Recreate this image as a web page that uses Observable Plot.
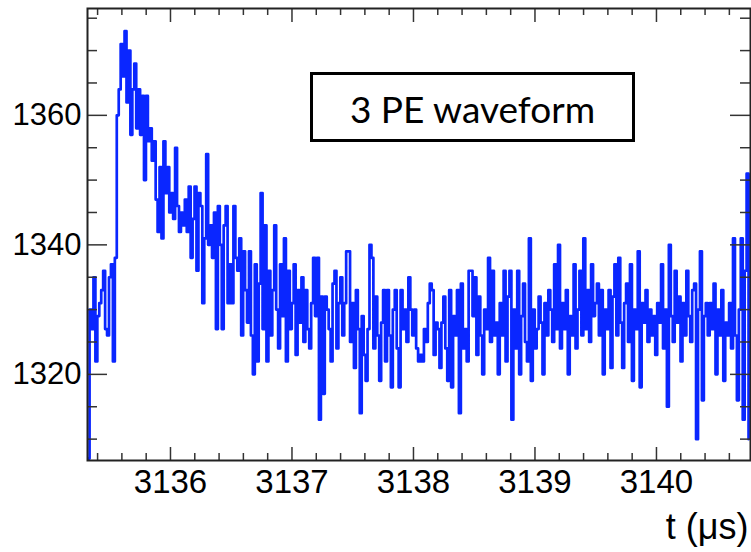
<!DOCTYPE html>
<html>
<head>
<meta charset="utf-8">
<script src="https://cdn.jsdelivr.net/npm/d3@7"></script>
<script src="https://cdn.jsdelivr.net/npm/@observablehq/plot@0.6"></script>
<style>
  html, body { margin: 0; padding: 0; background: #fff; }
  #wrap { position: relative; width: 751px; height: 552px; overflow: hidden; }
  #legend {
    position: absolute; left: 310px; top: 72px; width: 325px; height: 70px;
    box-sizing: border-box; border: 3px solid #000; background: #fff;
    display: flex; align-items: center; justify-content: center;
    font-family: Lato, "Open Sans", sans-serif; font-size: 37px; color: #000;
    padding-top: 2px;
  }
</style>
</head>
<body>
<div id="wrap"><div id="chart"></div><div id="legend">3 PE waveform</div></div>
<script>
// Sampling grid of the waveform (µs)
const tStart = 3135.318;
const dt = 0.016;
// ADC counts, one per sample
const adc = [
  1307, 1330, 1327, 1335, 1322, 1329, 1331, 1333, 1336, 1327,
  1326, 1335, 1337, 1322, 1338, 1360, 1364, 1371, 1366, 1373,
  1362, 1370, 1357, 1364, 1368, 1358, 1364, 1357, 1363, 1350,
  1363, 1356, 1358, 1353, 1356, 1347, 1342, 1352, 1341, 1356,
  1348, 1352, 1345, 1348, 1344, 1355, 1346, 1342, 1345, 1343,
  1347, 1342, 1349, 1338, 1344, 1349, 1336, 1348, 1346, 1331,
  1341, 1354, 1340, 1343, 1338, 1345, 1327, 1346, 1340, 1327,
  1343, 1346, 1331, 1337, 1331, 1346, 1338, 1336, 1341, 1326,
  1339, 1333, 1328, 1339, 1326, 1320, 1337, 1322, 1334, 1348,
  1327, 1343, 1322, 1336, 1326, 1333, 1343, 1330, 1324, 1337,
  1329, 1341, 1322, 1336, 1327, 1331, 1337, 1323, 1333, 1328,
  1335, 1325, 1333, 1327, 1324, 1331, 1338, 1329, 1338, 1313,
  1332, 1317, 1332, 1330, 1327, 1322, 1334, 1336, 1324, 1331,
  1335, 1326, 1331, 1339, 1339, 1325, 1331, 1321, 1333, 1327,
  1314, 1329, 1323, 1319, 1327, 1340, 1338, 1324, 1332, 1326,
  1319, 1328, 1333, 1322, 1333, 1326, 1318, 1330, 1333, 1324,
  1318, 1333, 1327, 1330, 1325, 1335, 1330, 1326, 1330, 1324,
  1322, 1323, 1322, 1327, 1325, 1331, 1334, 1333, 1323, 1328,
  1327, 1321, 1328, 1332, 1324, 1319, 1333, 1318, 1329, 1326,
  1333, 1314, 1334, 1324, 1327, 1322, 1336, 1336, 1329, 1335,
  1323, 1332, 1326, 1320, 1330, 1327, 1338, 1325, 1336, 1326,
  1328, 1320, 1331, 1326, 1336, 1322, 1332, 1336, 1313, 1330,
  1324, 1336, 1320, 1329, 1334, 1325, 1322, 1341, 1319, 1330,
  1324, 1327, 1332, 1328, 1320, 1331, 1326, 1333, 1330, 1325,
  1337, 1327, 1340, 1324, 1331, 1327, 1333, 1320, 1329, 1326,
  1337, 1324, 1330, 1336, 1326, 1341, 1327, 1333, 1325, 1337,
  1329, 1331, 1334, 1326, 1333, 1320, 1330, 1327, 1333, 1321,
  1332, 1337, 1326, 1338, 1328, 1321, 1331, 1334, 1325, 1337,
  1319, 1330, 1327, 1339, 1318, 1331, 1328, 1333, 1325, 1330,
  1326, 1329, 1323, 1331, 1328, 1337, 1324, 1330, 1315, 1340,
  1329, 1325, 1336, 1328, 1332, 1322, 1331, 1326, 1336, 1329,
  1325, 1333, 1334, 1310, 1330, 1339, 1316, 1329, 1331, 1326,
  1331, 1327, 1334, 1320, 1330, 1326, 1333, 1319, 1328, 1326,
  1331, 1324, 1341, 1326, 1316, 1330, 1341, 1313, 1336, 1351,
  1310
];
const xMajor = [3136, 3137, 3138, 3139, 3140];
const xMinor = [3135.4, 3135.6, 3135.8, 3136.2, 3136.4, 3136.6, 3136.8, 3137.2, 3137.4, 3137.6, 3137.8,
  3138.2, 3138.4, 3138.6, 3138.8, 3139.2, 3139.4, 3139.6, 3139.8, 3140.2, 3140.4, 3140.6];
const yMajor = [1320, 1340, 1360];
const yMinor = [1310, 1315, 1325, 1330, 1335, 1345, 1350, 1355, 1365, 1370, 1375];
const xDomain = [3135.317, 3140.774];
const yDomain = [1306.7, 1376.5];
const xTitle = "t (μs)";

const samples = adc.map((v, i) => ({t: tStart + i * dt, v}));

const W = 751, H = 552, mL = 87, mR = 1, mT = 8, mB = 92;
const pw = W - mL - mR, ph = H - mT - mB;
const tickColor = "#333";
const lineColor = "#0a26ff";

const chart = Plot.plot({
  width: W, height: H,
  marginLeft: mL, marginRight: mR, marginTop: mT, marginBottom: mB,
  style: {fontFamily: "'Liberation Sans', Arial, Helvetica, sans-serif", background: "#fff", color: "#000"},
  x: {domain: xDomain},
  y: {domain: yDomain},
  marks: [
    Plot.line(samples, {x: "t", y: "v", curve: "step-after", stroke: lineColor, strokeWidth: 2.7, clip: true}),
    Plot.tickX(xMinor, {x: d => d, insetTop: ph - 7, stroke: tickColor, strokeWidth: 1.5}),
    Plot.tickX(xMajor, {x: d => d, insetTop: ph - 13, stroke: tickColor, strokeWidth: 1.5}),
    Plot.tickX(xMinor, {x: d => d, insetBottom: ph - 7, stroke: tickColor, strokeWidth: 1.5}),
    Plot.tickX(xMajor, {x: d => d, insetBottom: ph - 14, stroke: tickColor, strokeWidth: 1.5}),
    Plot.tickY(yMinor, {y: d => d, insetRight: pw - 10, stroke: tickColor, strokeWidth: 1.5}),
    Plot.tickY(yMajor, {y: d => d, insetRight: pw - 20, stroke: tickColor, strokeWidth: 1.5}),
    Plot.tickY(yMinor, {y: d => d, insetLeft: pw - 10, stroke: tickColor, strokeWidth: 1.5}),
    Plot.tickY(yMajor, {y: d => d, insetLeft: pw - 20, stroke: tickColor, strokeWidth: 1.5}),
    Plot.axisX(xMajor, {tickSize: 0, tickPadding: 9, fontSize: 33, label: null, tickFormat: d => String(d)}),
    Plot.axisY(yMajor, {tickSize: 0, tickPadding: 6, fontSize: 31, label: null, tickFormat: d => String(d)}),
    Plot.frame({stroke: "#222", strokeWidth: 2}),
    Plot.text([xTitle], {frameAnchor: "bottom-right", dx: -2, dy: 78, textAnchor: "end", lineAnchor: "bottom", fontSize: 36, fill: "#000"})
  ]
});
document.getElementById("chart").appendChild(chart);
</script>
</body>
</html>
